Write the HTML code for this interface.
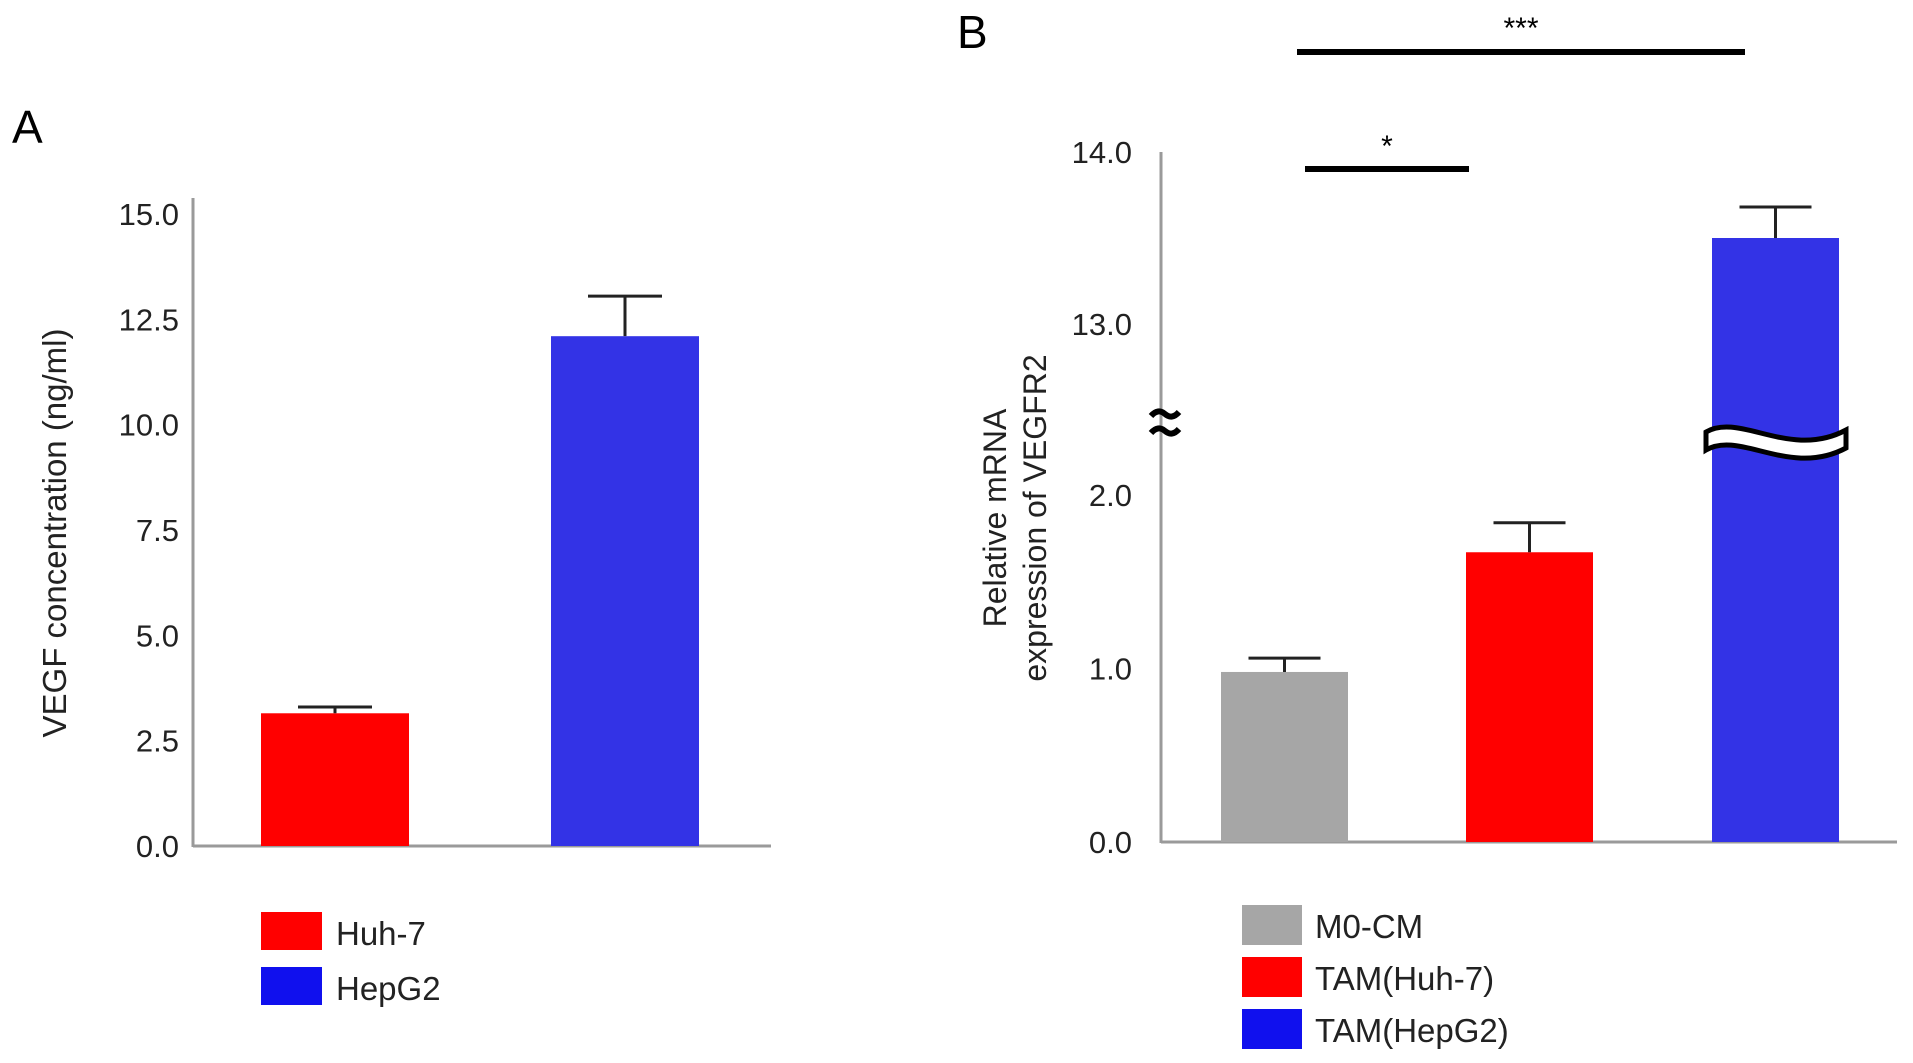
<!DOCTYPE html>
<html><head><meta charset="utf-8"><style>
html,body{margin:0;padding:0;background:#fff;}
svg{display:block;font-family:"Liberation Sans",Arial,sans-serif;}
</style></head><body>
<svg id="c" width="1913" height="1063" viewBox="0 0 1913 1063" xmlns="http://www.w3.org/2000/svg"></svg>
<script>
const aCategories = ["Huh-7","HepG2"];
const aValues = [3.15, 12.1];
const aErrors = [0.15, 0.95];
const aTicks = ["0.0","2.5","5.0","7.5","10.0","12.5","15.0"];
const aColors = ["#ff0000","#3333e6"];
const bCategories = ["M0-CM","TAM(Huh-7)","TAM(HepG2)"];
const bValues = [0.98, 1.67, 13.5];
const bErrors = [0.08, 0.17, 0.18];
const bTicks = ["0.0","1.0","2.0","13.0","14.0"];
const bColors = ["#a6a6a6","#ff0000","#3333e6"];
const legendColors = ["#a6a6a6","#ff0000","#1010ee"];

const NS="http://www.w3.org/2000/svg";
const svg=document.getElementById('c');
function mk(tag,attrs,parent){const e=document.createElementNS(NS,tag);for(const k in attrs)e.setAttribute(k,attrs[k]);(parent||svg).appendChild(e);return e;}
function txt(s,attrs,parent){const e=mk('text',attrs,parent);e.textContent=s;return e;}

// Panel A
const yA=v=>846-v*(846-214)/15;
const aX0=193,aX1=771,aBarW=148,aBarX=[261,551];
const t=txt("A",{x:12,y:143,"font-size":46});

let e=mk('line',{x1:aX0,y1:198,x2:aX0,y2:847,stroke:"#9a9a9a","stroke-width":3});

e=mk('line',{x1:aX0,y1:846,x2:aX1,y2:846,stroke:"#9a9a9a","stroke-width":3});

aTicks.forEach(s=>{const l=txt(s,{x:179,y:yA(parseFloat(s))+11,"font-size":31,"text-anchor":"end",fill:"#222"});
});
e=txt("VEGF concentration (ng/ml)",{x:0,y:0,"font-size":33,"text-anchor":"middle",transform:"translate(66,533) rotate(-90)",fill:"#222"});

aValues.forEach((v,i)=>{
  const x=aBarX[i];
  const r=mk('rect',{x:x,y:yA(v),width:aBarW,height:846-yA(v),fill:aColors[i]});
  
  const cx=x+aBarW/2, top=yA(v+aErrors[i]);
  const g=mk('path',{d:`M${cx},${yA(v)} V${top} M${cx-37},${top} H${cx+37}`,stroke:"#222","stroke-width":3,fill:"none"});
  
  const sy=912+i*55;
  const sw=mk('rect',{x:261,y:sy,width:61,height:38,fill:legendColors[i+1]});
  
  const lt=txt(aCategories[i],{x:336,y:sy+33,"font-size":33,fill:"#222"});
  
});

// Panel B
const yB=v=>v<=2?842-v*(842-495)/2:324-(v-13)*(324-152);
const bX0=1161,bX1=1897,bBarW=127,bBarX=[1221,1466,1712];
e=txt("B",{x:957,y:48,"font-size":46});

e=mk('line',{x1:bX0,y1:152,x2:bX0,y2:843,stroke:"#9a9a9a","stroke-width":3});

e=mk('line',{x1:bX0,y1:842,x2:bX1,y2:842,stroke:"#9a9a9a","stroke-width":3});

bTicks.forEach(s=>{const l=txt(s,{x:1132,y:yB(parseFloat(s))+11,"font-size":31,"text-anchor":"end",fill:"#222"});
});
e=txt("Relative mRNA",{x:0,y:0,"font-size":32,"text-anchor":"middle",transform:"translate(1006,518) rotate(-90)",fill:"#222"});

e=txt("expression of VEGFR2",{x:0,y:0,"font-size":32,"text-anchor":"middle",transform:"translate(1046,518) rotate(-90)",fill:"#222"});

bValues.forEach((v,i)=>{
  const x=bBarX[i];
  const r=mk('rect',{x:x,y:yB(v),width:bBarW,height:842-yB(v),fill:bColors[i]});
  
  const cx=x+bBarW/2, top=yB(v+bErrors[i]);
  const g=mk('path',{d:`M${cx},${yB(v)} V${top} M${cx-36},${top} H${cx+36}`,stroke:"#222","stroke-width":3,fill:"none"});
  
  const sy=905+i*52;
  const sw=mk('rect',{x:1242,y:sy,width:60,height:40,fill:legendColors[i]});
  
  const lt=txt(bCategories[i],{x:1315,y:sy+33,"font-size":33,fill:"#222"});
  
});
// axis break marks
e=mk('path',{d:"M1151,416 q7,-8 14,-2 q7,6 14,-2 M1151,433 q7,-8 14,-2 q7,6 14,-2",stroke:"#000","stroke-width":6,fill:"none"});

e=mk('path',{d:"M1706,432 C1740,412 1790,460 1846,430 L1846,448 C1790,478 1740,430 1706,450 Z",fill:"#fff",stroke:"#000","stroke-width":5});

// significance
e=mk('line',{x1:1297,y1:52,x2:1745,y2:52,stroke:"#000","stroke-width":6});

e=txt("***",{x:1521,y:38,"font-size":30,"text-anchor":"middle"});

e=mk('line',{x1:1305,y1:169,x2:1469,y2:169,stroke:"#000","stroke-width":6});

e=txt("*",{x:1387,y:156,"font-size":30,"text-anchor":"middle"});

</script>
</body></html>
